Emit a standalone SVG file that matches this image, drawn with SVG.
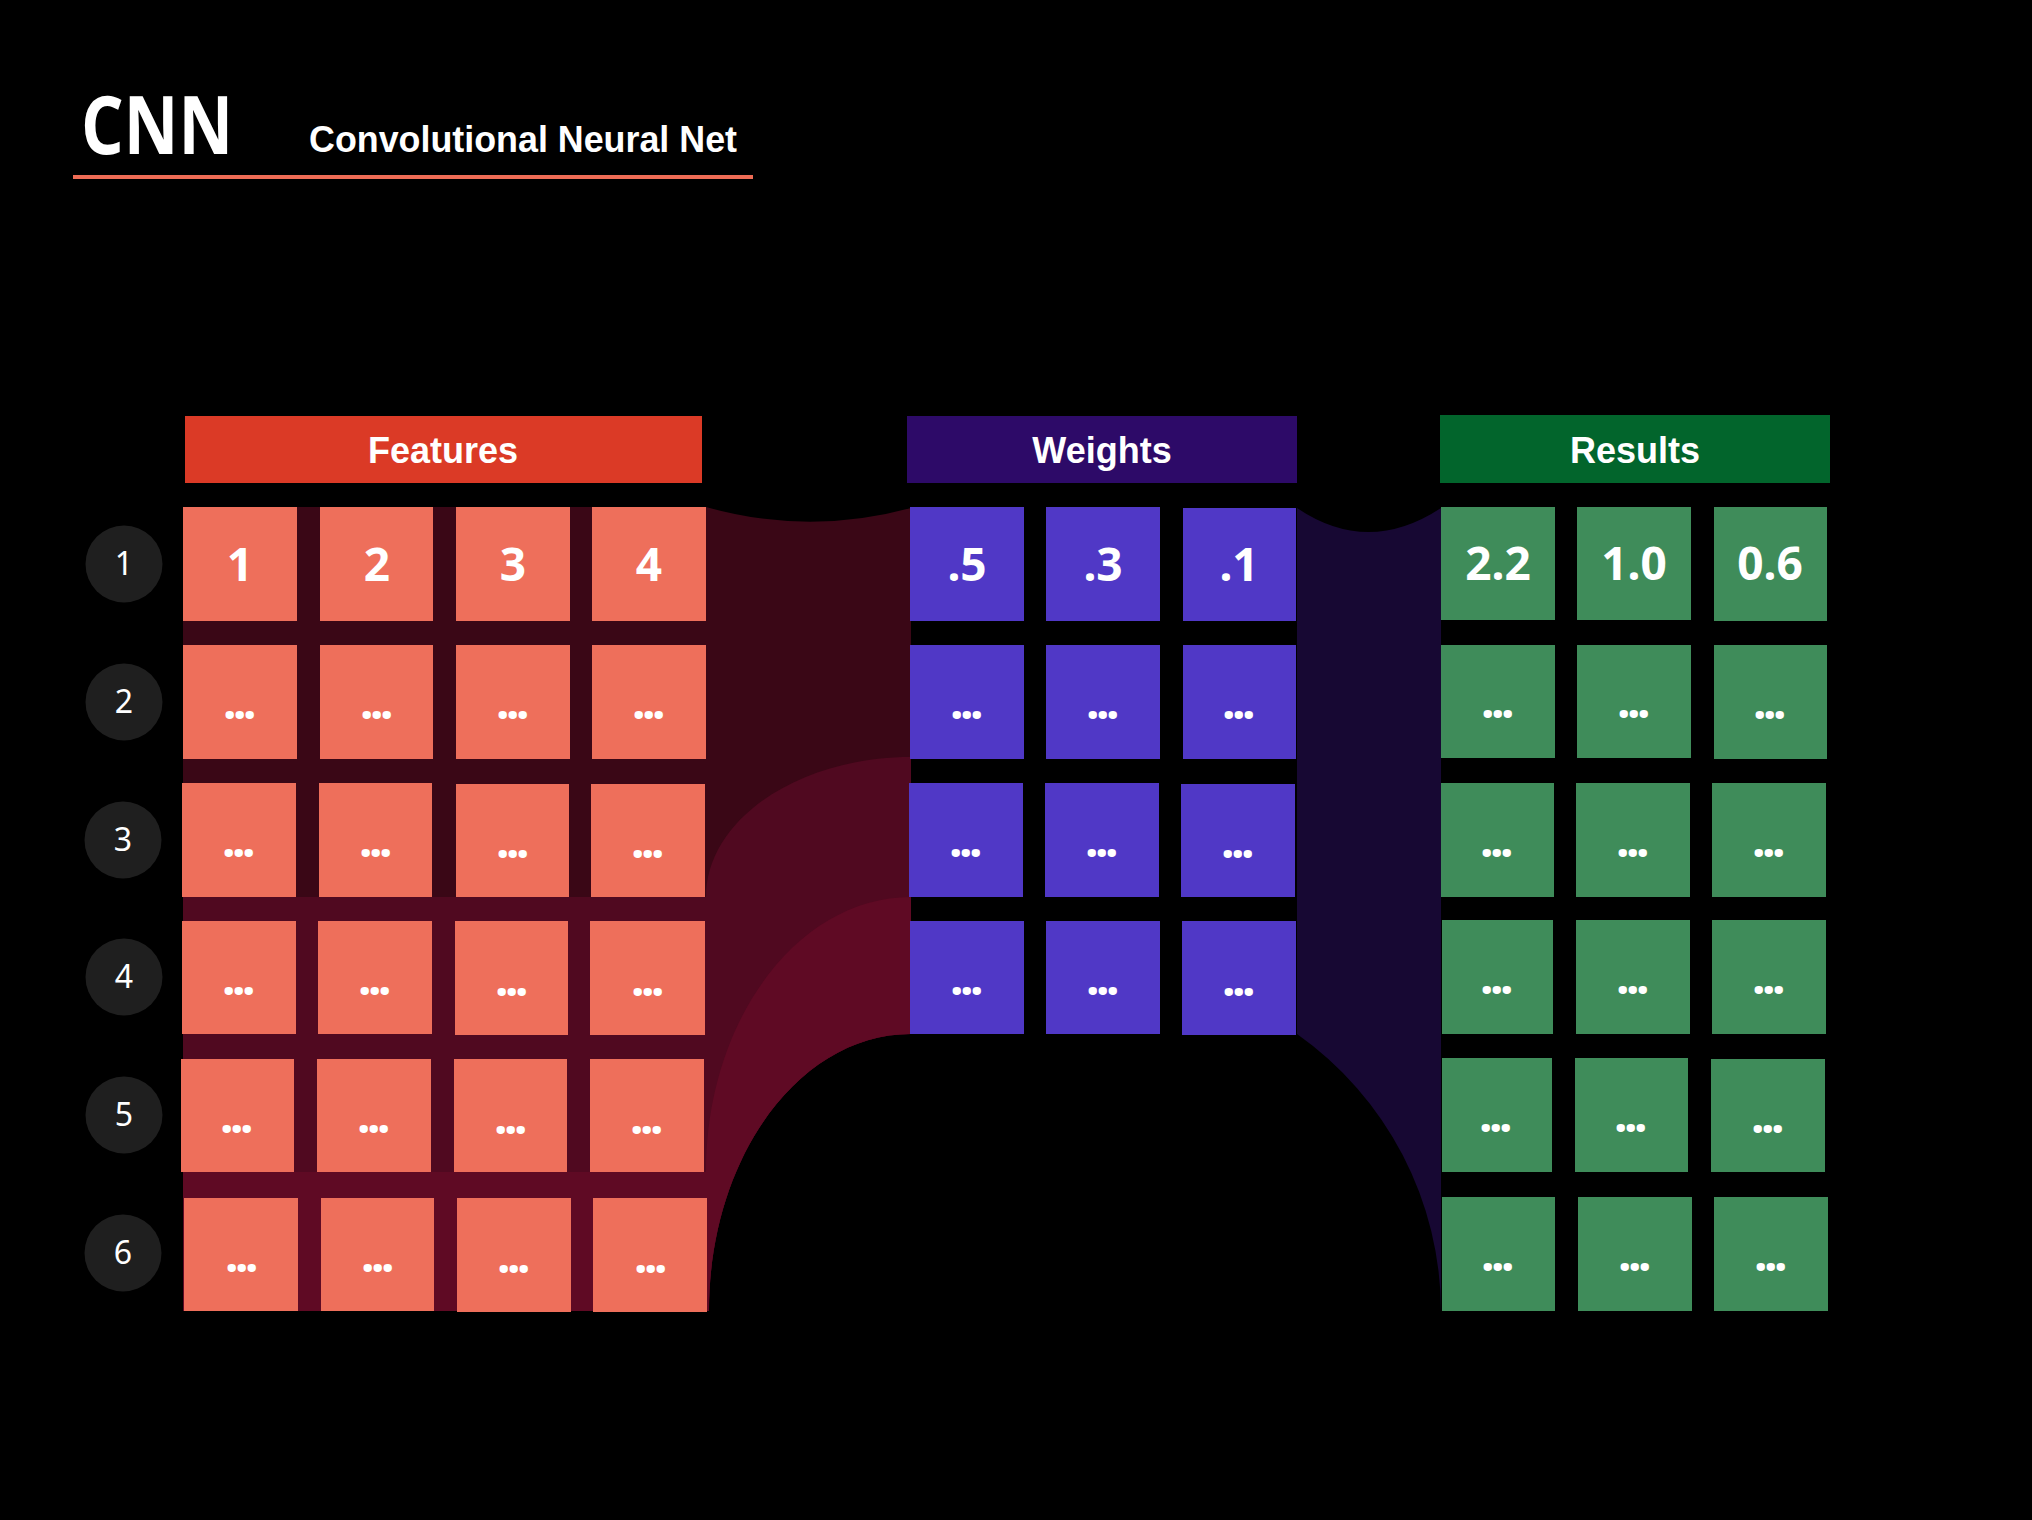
<svg xmlns="http://www.w3.org/2000/svg" width="2032" height="1520" viewBox="0 0 2032 1520">
<style>
.fc{fill:#EE6F5B}
.wc{fill:#5038C6}
.rc{fill:#3F8C5A}
.num{font-family:"Noto Sans",sans-serif;font-weight:700;font-size:46px;fill:#fff;text-anchor:middle}
.dots{font-family:"Noto Sans",sans-serif;font-weight:700;font-size:48px;fill:#fff;text-anchor:middle;letter-spacing:-3.5px}
.hdr{font-family:"Liberation Sans",Arial,sans-serif;font-weight:700;font-size:36px;fill:#fff;text-anchor:middle}
.circ{fill:#1F1F1F}
.cnum{font-family:"Noto Sans",sans-serif;font-size:32px;fill:#fff;text-anchor:middle}
</style>
<rect width="2032" height="1520" fill="#000"/>

<g id="title">
<text x="81" y="154" font-family="'Open Sans','Liberation Sans',sans-serif" font-weight="700" font-size="81" fill="#fff" textLength="152" lengthAdjust="spacingAndGlyphs">CNN</text>
<text x="309" y="152" font-family="'Liberation Sans',Arial,sans-serif" font-weight="700" font-size="36" fill="#fff" textLength="428" lengthAdjust="spacingAndGlyphs">Convolutional Neural Net</text>
<rect x="73" y="175" width="680" height="4" fill="#EE6C55"/>
</g>

<g id="connectors">
<path d="M183,507 H706 Q808,536 911,508 V1034 C799,1034 709,1158 709,1311 H183 Z" fill="#3A0716"/>
<path d="M183,897 H706 C706,820 798,757 911,757 V1034 C799,1034 709,1158 709,1311 H183 Z" fill="#500920"/>
<path d="M183,1172 H706 C706,1020 798,897 911,897 V1034 C799,1034 709,1158 709,1311 H183 Z" fill="#5F0A24"/>
<path d="M1297,508 Q1368,556 1441,508 V1311 A340,340 0 0 0 1297,1034 Z" fill="#170833"/>
</g>

<g id="header-features"><rect x="185" y="416" width="517" height="67" fill="#DB3A26"/><text class="hdr" x="443" y="463">Features</text></g>
<g id="header-weights"><rect x="907" y="416" width="390" height="67" fill="#2D0A68"/><text class="hdr" x="1102" y="463">Weights</text></g>
<g id="header-results"><rect x="1440" y="415" width="390" height="68" fill="#02652C"/><text class="hdr" x="1635" y="463">Results</text></g>

<g id="row-num-1"><circle class="circ" cx="124" cy="564" r="38.5"/><text class="cnum" x="124" y="575">1</text></g>
<g id="row-num-2"><circle class="circ" cx="124" cy="702" r="38.5"/><text class="cnum" x="124" y="713">2</text></g>
<g id="row-num-3"><circle class="circ" cx="123" cy="840" r="38.5"/><text class="cnum" x="123" y="851">3</text></g>
<g id="row-num-4"><circle class="circ" cx="124" cy="977" r="38.5"/><text class="cnum" x="124" y="988">4</text></g>
<g id="row-num-5"><circle class="circ" cx="124" cy="1115" r="38.5"/><text class="cnum" x="124" y="1126">5</text></g>
<g id="row-num-6"><circle class="circ" cx="123" cy="1253" r="38.5"/><text class="cnum" x="123" y="1264">6</text></g>

<!-- Features -->
<g id="f-1-1"><rect class="fc" x="183" y="507" width="114" height="114"/><text class="num" x="240" y="581">1</text></g>
<g id="f-1-2"><rect class="fc" x="320" y="507" width="113" height="114"/><text class="num" x="377" y="581">2</text></g>
<g id="f-1-3"><rect class="fc" x="456" y="507" width="114" height="114"/><text class="num" x="513" y="581">3</text></g>
<g id="f-1-4"><rect class="fc" x="592" y="507" width="114" height="114"/><text class="num" x="649" y="581">4</text></g>

<g id="f-2-1"><rect class="fc" x="183" y="645" width="114" height="114"/><text class="dots" x="238" y="719">...</text></g>
<g id="f-2-2"><rect class="fc" x="320" y="645" width="113" height="114"/><text class="dots" x="375" y="719">...</text></g>
<g id="f-2-3"><rect class="fc" x="456" y="645" width="114" height="114"/><text class="dots" x="511" y="719">...</text></g>
<g id="f-2-4"><rect class="fc" x="592" y="645" width="114" height="114"/><text class="dots" x="647" y="719">...</text></g>

<g id="f-3-1"><rect class="fc" x="182" y="783" width="114" height="114"/><text class="dots" x="237" y="857">...</text></g>
<g id="f-3-2"><rect class="fc" x="319" y="783" width="113" height="114"/><text class="dots" x="374" y="857">...</text></g>
<g id="f-3-3"><rect class="fc" x="456" y="784" width="113" height="113"/><text class="dots" x="511" y="858">...</text></g>
<g id="f-3-4"><rect class="fc" x="591" y="784" width="114" height="113"/><text class="dots" x="646" y="858">...</text></g>

<g id="f-4-1"><rect class="fc" x="182" y="921" width="114" height="113"/><text class="dots" x="237" y="995">...</text></g>
<g id="f-4-2"><rect class="fc" x="318" y="921" width="114" height="113"/><text class="dots" x="373" y="995">...</text></g>
<g id="f-4-3"><rect class="fc" x="455" y="921" width="113" height="114"/><text class="dots" x="510" y="996">...</text></g>
<g id="f-4-4"><rect class="fc" x="590" y="921" width="115" height="114"/><text class="dots" x="646" y="996">...</text></g>

<g id="f-5-1"><rect class="fc" x="181" y="1059" width="113" height="113"/><text class="dots" x="235" y="1133">...</text></g>
<g id="f-5-2"><rect class="fc" x="317" y="1059" width="114" height="113"/><text class="dots" x="372" y="1133">...</text></g>
<g id="f-5-3"><rect class="fc" x="454" y="1059" width="113" height="113"/><text class="dots" x="509" y="1134">...</text></g>
<g id="f-5-4"><rect class="fc" x="590" y="1059" width="114" height="113"/><text class="dots" x="645" y="1134">...</text></g>

<g id="f-6-1"><rect class="fc" x="184" y="1198" width="114" height="113"/><text class="dots" x="240" y="1272">...</text></g>
<g id="f-6-2"><rect class="fc" x="321" y="1198" width="113" height="113"/><text class="dots" x="376" y="1272">...</text></g>
<g id="f-6-3"><rect class="fc" x="457" y="1198" width="114" height="114"/><text class="dots" x="512" y="1273">...</text></g>
<g id="f-6-4"><rect class="fc" x="593" y="1198" width="114" height="114"/><text class="dots" x="649" y="1273">...</text></g>

<!-- Weights -->
<g id="w-1-1"><rect class="wc" x="910" y="507" width="114" height="114"/><text class="num" x="967" y="581">.5</text></g>
<g id="w-1-2"><rect class="wc" x="1046" y="507" width="114" height="114"/><text class="num" x="1103" y="581">.3</text></g>
<g id="w-1-3"><rect class="wc" x="1183" y="508" width="113" height="113"/><text class="num" x="1239" y="581">.1</text></g>

<g id="w-2-1"><rect class="wc" x="910" y="645" width="114" height="114"/><text class="dots" x="965" y="719">...</text></g>
<g id="w-2-2"><rect class="wc" x="1046" y="645" width="114" height="114"/><text class="dots" x="1101" y="719">...</text></g>
<g id="w-2-3"><rect class="wc" x="1183" y="645" width="113" height="114"/><text class="dots" x="1237" y="719">...</text></g>

<g id="w-3-1"><rect class="wc" x="909" y="783" width="114" height="114"/><text class="dots" x="964" y="857">...</text></g>
<g id="w-3-2"><rect class="wc" x="1045" y="783" width="114" height="114"/><text class="dots" x="1100" y="857">...</text></g>
<g id="w-3-3"><rect class="wc" x="1181" y="784" width="114" height="113"/><text class="dots" x="1236" y="858">...</text></g>

<g id="w-4-1"><rect class="wc" x="910" y="921" width="114" height="113"/><text class="dots" x="965" y="995">...</text></g>
<g id="w-4-2"><rect class="wc" x="1046" y="921" width="114" height="113"/><text class="dots" x="1101" y="995">...</text></g>
<g id="w-4-3"><rect class="wc" x="1182" y="921" width="114" height="114"/><text class="dots" x="1237" y="996">...</text></g>

<!-- Results -->
<g id="r-1-1"><rect class="rc" x="1441" y="507" width="114" height="113"/><text class="num" x="1498" y="580">2.2</text></g>
<g id="r-1-2"><rect class="rc" x="1577" y="507" width="114" height="113"/><text class="num" x="1634" y="580">1.0</text></g>
<g id="r-1-3"><rect class="rc" x="1714" y="507" width="113" height="114"/><text class="num" x="1770" y="580">0.6</text></g>

<g id="r-2-1"><rect class="rc" x="1441" y="645" width="114" height="113"/><text class="dots" x="1496" y="718">...</text></g>
<g id="r-2-2"><rect class="rc" x="1577" y="645" width="114" height="113"/><text class="dots" x="1632" y="718">...</text></g>
<g id="r-2-3"><rect class="rc" x="1714" y="645" width="113" height="114"/><text class="dots" x="1768" y="719">...</text></g>

<g id="r-3-1"><rect class="rc" x="1441" y="783" width="113" height="114"/><text class="dots" x="1495" y="857">...</text></g>
<g id="r-3-2"><rect class="rc" x="1576" y="783" width="114" height="114"/><text class="dots" x="1631" y="857">...</text></g>
<g id="r-3-3"><rect class="rc" x="1712" y="783" width="114" height="114"/><text class="dots" x="1767" y="857">...</text></g>

<g id="r-4-1"><rect class="rc" x="1442" y="920" width="111" height="114"/><text class="dots" x="1495" y="994">...</text></g>
<g id="r-4-2"><rect class="rc" x="1576" y="920" width="114" height="114"/><text class="dots" x="1631" y="994">...</text></g>
<g id="r-4-3"><rect class="rc" x="1712" y="920" width="114" height="114"/><text class="dots" x="1767" y="994">...</text></g>

<g id="r-5-1"><rect class="rc" x="1442" y="1058" width="110" height="114"/><text class="dots" x="1494" y="1132">...</text></g>
<g id="r-5-2"><rect class="rc" x="1575" y="1058" width="113" height="114"/><text class="dots" x="1629" y="1132">...</text></g>
<g id="r-5-3"><rect class="rc" x="1711" y="1059" width="114" height="113"/><text class="dots" x="1766" y="1133">...</text></g>

<g id="r-6-1"><rect class="rc" x="1442" y="1197" width="113" height="114"/><text class="dots" x="1496" y="1271">...</text></g>
<g id="r-6-2"><rect class="rc" x="1578" y="1197" width="114" height="114"/><text class="dots" x="1633" y="1271">...</text></g>
<g id="r-6-3"><rect class="rc" x="1714" y="1197" width="114" height="114"/><text class="dots" x="1769" y="1271">...</text></g>
</svg>
